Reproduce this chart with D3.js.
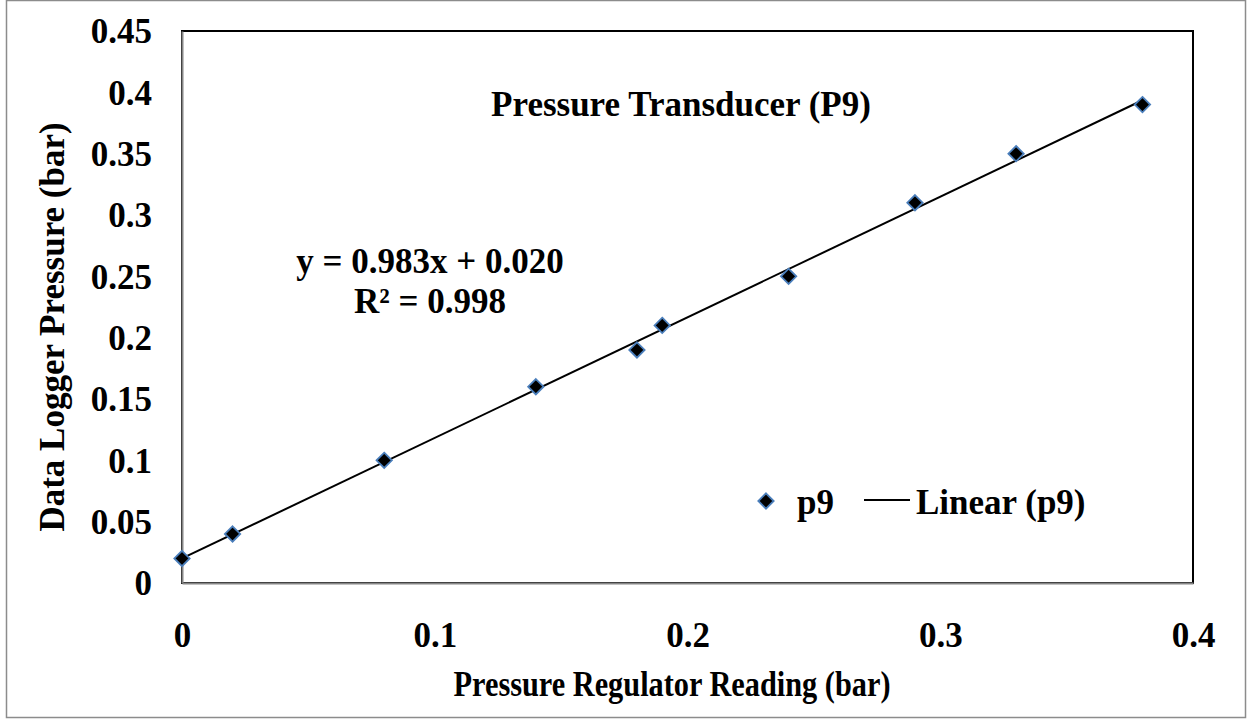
<!DOCTYPE html>
<html>
<head>
<meta charset="UTF-8">
<script src="https://d3js.org/d3.v7.min.js"></script>
<style>
  body { margin: 0; background: #fff; }
  text { font-family: "Liberation Serif", "Times New Roman", serif; font-weight: bold; fill: #000; }
</style>
</head>
<body>
<div id="chart"></div>
<script>
// datos
const regulator = [0, 0.02, 0.08, 0.14, 0.18, 0.19, 0.24, 0.29, 0.33, 0.38];
const logger    = [0.02, 0.04, 0.10, 0.16, 0.19, 0.21, 0.25, 0.31, 0.35, 0.39];
const xTicks = [0, 0.1, 0.2, 0.3, 0.4];
const yTicks = [0, 0.05, 0.1, 0.15, 0.2, 0.25, 0.3, 0.35, 0.4, 0.45];
const fitSlope = 0.983;
const fitIntercept = 0.020;
const fitR2 = 0.998;

const width = 1247, height = 719;
const plot = { left: 182, right: 1193, top: 31, bottom: 583 };

const svg = d3.select("#chart").append("svg")
  .attr("width", width).attr("height", height);

// borde exterior
svg.append("rect")
  .attr("x", 6.5).attr("y", 0.5)
  .attr("width", width - 8).attr("height", height - 2)
  .attr("fill", "none").attr("stroke", "#8c8c8c").attr("stroke-width", 1.5);

const x = d3.scaleLinear().domain([0, 0.4]).range([plot.left, plot.right]);
const y = d3.scaleLinear().domain([0, 0.45]).range([plot.bottom, plot.top]);

// marco del área de trazado
svg.append("rect")
  .attr("x", plot.left).attr("y", plot.top)
  .attr("width", plot.right - plot.left).attr("height", plot.bottom - plot.top)
  .attr("fill", "none").attr("stroke", "#000").attr("stroke-width", 2);

const fmt = d => d === 0 ? "0" : String(+d.toFixed(2));

// eje Y
const yAxis = svg.append("g")
  .attr("transform", `translate(${plot.left},0)`)
  .call(d3.axisLeft(y).tickValues(yTicks).tickFormat(fmt).tickSize(0).tickPadding(30));
yAxis.select(".domain").attr("stroke", "#868686").attr("stroke-width", 2);
yAxis.selectAll("text")
  .attr("font-size", 35).attr("font-family", "Liberation Serif").attr("font-weight", "bold")
  .attr("dy", "0.34em");

// eje X
const xAxis = svg.append("g")
  .attr("transform", `translate(0,${plot.bottom})`)
  .call(d3.axisBottom(x).tickValues(xTicks).tickFormat(fmt).tickSize(0).tickPadding(0));
xAxis.select(".domain").attr("stroke", "#868686").attr("stroke-width", 2);
xAxis.selectAll("text")
  .attr("font-size", 35).attr("font-family", "Liberation Serif").attr("font-weight", "bold")
  .attr("dy", null).attr("y", 64);

// línea de tendencia
const xMax = d3.max(regulator);
const fitPts = [0, xMax].map(v => [v, fitSlope * v + fitIntercept]);
svg.append("path")
  .attr("d", d3.line().x(d => x(d[0])).y(d => y(d[1]))(fitPts))
  .attr("stroke", "#000").attr("stroke-width", 2).attr("fill", "none");

// marcadores
const diamond = d3.symbol().type(d3.symbolDiamond2).size(150);
svg.append("g").selectAll("path")
  .data(regulator.map((v, i) => [v, logger[i]]))
  .join("path")
  .attr("transform", d => `translate(${x(d[0])},${y(d[1])})`)
  .attr("d", diamond)
  .attr("fill", "#000").attr("stroke", "#4a7ebb").attr("stroke-width", 1.8);

// título
svg.append("text")
  .attr("x", 681).attr("y", 116)
  .attr("text-anchor", "middle").attr("font-size", 35)
  .text("Pressure Transducer (P9)");

// ecuación
svg.append("text")
  .attr("x", 430).attr("y", 273)
  .attr("text-anchor", "middle").attr("font-size", 35)
  .text(`y = ${fitSlope.toFixed(3)}x + ${fitIntercept.toFixed(3)}`);
svg.append("text")
  .attr("x", 430).attr("y", 313)
  .attr("text-anchor", "middle").attr("font-size", 35)
  .text(`R² = ${fitR2.toFixed(3)}`);

// leyenda
svg.append("path")
  .attr("transform", "translate(766,501)")
  .attr("d", diamond)
  .attr("fill", "#000").attr("stroke", "#4a7ebb").attr("stroke-width", 1.8);
svg.append("text").attr("x", 797).attr("y", 514).attr("font-size", 35).text("p9");
svg.append("line")
  .attr("x1", 864).attr("x2", 910).attr("y1", 500).attr("y2", 500)
  .attr("stroke", "#000").attr("stroke-width", 2);
svg.append("text").attr("x", 916).attr("y", 514).attr("font-size", 35).text("Linear (p9)");

// títulos de ejes
svg.append("text")
  .attr("x", 672).attr("y", 696)
  .attr("text-anchor", "middle").attr("font-size", 35)
  .attr("textLength", 437).attr("lengthAdjust", "spacingAndGlyphs")
  .text("Pressure Regulator Reading (bar)");
svg.append("text")
  .attr("transform", "translate(64,327) rotate(-90)")
  .attr("text-anchor", "middle").attr("font-size", 35)
  .text("Data Logger Pressure (bar)");
</script>
</body>
</html>
